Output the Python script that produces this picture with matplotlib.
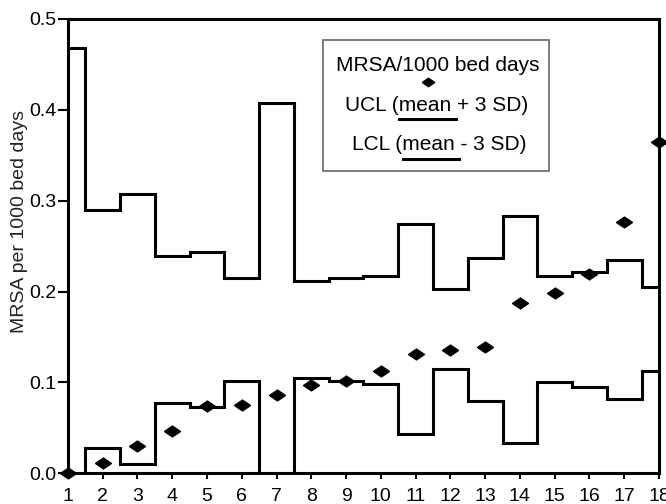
import matplotlib
matplotlib.use("Agg")
from matplotlib import pyplot as plt
from matplotlib.patches import Rectangle
from matplotlib.lines import Line2D

plt.rcParams['font.family'] = ['Liberation Sans', 'DejaVu Sans']

# months 1..18
months = list(range(1, 19))
mrsa_rate = [0.0, 0.011, 0.030, 0.046, 0.074, 0.075, 0.086, 0.097, 0.102,
             0.113, 0.131, 0.136, 0.139, 0.187, 0.198, 0.219, 0.276, 0.364]
ucl = [0.468, 0.290, 0.307, 0.239, 0.244, 0.215, 0.407, 0.212, 0.215,
       0.217, 0.274, 0.203, 0.237, 0.283, 0.217, 0.221, 0.235, 0.205]
lcl = [0.0, 0.028, 0.010, 0.077, 0.073, 0.101, 0.0, 0.105, 0.101,
       0.098, 0.043, 0.115, 0.079, 0.033, 0.100, 0.095, 0.082, 0.112]

# flattened diamond marker (wider than tall)
diamond = [(-1, 0), (0, 0.68), (1, 0), (0, -0.68), (-1, 0)]

fig = plt.figure(figsize=(6.66, 5.04), dpi=100)
ax = fig.add_axes([0.102, 0.061, 0.8875, 0.9015])

ax.step(months, ucl, where='mid', color='black', lw=2.2, solid_joinstyle='miter')
ax.step(months, lcl, where='mid', color='black', lw=2.2, solid_joinstyle='miter')
ax.plot(months, mrsa_rate, linestyle='none', marker=diamond, markersize=11.5,
        color='black', clip_on=False, zorder=5)

ax.set_xlim(1, 18)
ax.set_ylim(0, 0.5)
ax.set_xticks(months)
ax.set_yticks([0.0, 0.1, 0.2, 0.3, 0.4, 0.5])
ax.set_yticklabels(['0.0', '0.1', '0.2', '0.3', '0.4', '0.5'])
ax.tick_params(axis='both', labelsize=14, width=1.5)
ax.tick_params(axis='x', length=4.5, pad=6)
ax.tick_params(axis='y', length=7, pad=1.5)
ax.set_ylabel('MRSA per 1000 bed days', fontsize=14, color='#222222')
ax.yaxis.set_label_coords(-0.067, 0.554)
for s in ax.spines.values():
    s.set_linewidth(2.2)

# hand drawn legend box, the line samples sit under "mean"
ax.add_patch(Rectangle((0.431, 0.666), 0.383, 0.2876, transform=ax.transAxes,
                       facecolor='white', edgecolor='#666666', lw=1.2, zorder=6))
ax.text(0.625, 0.8985, 'MRSA/1000 bed days', transform=ax.transAxes,
        ha='center', va='center', fontsize=15, zorder=7)
ax.add_line(Line2D([0.609], [0.862], transform=ax.transAxes, marker=diamond,
                   markersize=9, color='black', linestyle='none', zorder=7))
ax.text(0.6245, 0.8105, 'UCL (mean + 3 SD)', transform=ax.transAxes,
        ha='center', va='center', fontsize=15, zorder=7)
ax.add_line(Line2D([0.560, 0.656], [0.780, 0.780], transform=ax.transAxes,
                   color='black', lw=2.2, zorder=7))
ax.text(0.6286, 0.7225, 'LCL (mean - 3 SD)', transform=ax.transAxes,
        ha='center', va='center', fontsize=15, zorder=7)
ax.add_line(Line2D([0.567, 0.662], [0.6917, 0.6917], transform=ax.transAxes,
                   color='black', lw=2.2, zorder=7))

fig.savefig('out.png', dpi=100)
